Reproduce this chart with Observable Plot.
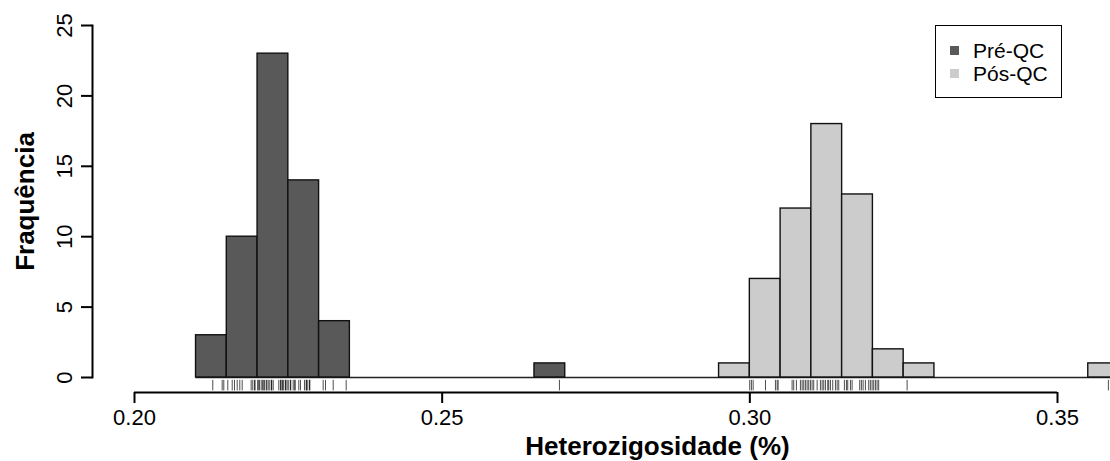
<!DOCTYPE html>
<html>
<head>
<meta charset="utf-8">
<script src="https://cdn.jsdelivr.net/npm/d3@7"></script>
<script src="https://cdn.jsdelivr.net/npm/@observablehq/plot@0.6"></script>
<style>
  body { margin: 0; background: #fff; }
  #wrap { position: relative; width: 1110px; height: 461px; overflow: hidden;
          font-family: "Liberation Sans", Arial, Helvetica, sans-serif; }
  #legend { position: absolute; left: 935px; top: 25px; width: 125px; height: 71px;
            border: 1.5px solid #000; background: #fff; }
  #legend .sw { position: absolute; left: 13.5px; width: 9px; height: 9px; }
  #legend .lab { position: absolute; left: 37px; font-size: 21px; line-height: 20px; color: #000; white-space: nowrap; }
</style>
</head>
<body>
<div id="wrap"><div id="chart"></div><div id="legend"></div></div>
<script>
// ---- data ----
const seriesNames  = ["Pré-QC", "Pós-QC"];
const seriesColors = ["#595959", "#cccccc"];
const binWidth = 0.005;

const preBinStart = [0.210, 0.215, 0.220, 0.225, 0.230, 0.265];
const preCounts   = [3, 10, 23, 14, 4, 1];

const postBinStart = [0.295, 0.300, 0.305, 0.310, 0.315, 0.320, 0.325, 0.355];
const postCounts   = [1, 7, 12, 18, 13, 2, 1, 1];

const preRug = [
  0.21272, 0.21425, 0.21451,
  0.21516, 0.21588, 0.21625, 0.21669, 0.21711, 0.21750, 0.21896, 0.21922, 0.21950, 0.21960,
  0.22004, 0.22010, 0.22031, 0.22059, 0.22085, 0.22090, 0.22112, 0.22140, 0.22150, 0.22173,
  0.22199, 0.22226, 0.22230, 0.22254, 0.22345, 0.22372, 0.22380, 0.22400, 0.22410, 0.22426,
  0.22454, 0.22460, 0.22481,
  0.22507, 0.22535, 0.22540, 0.22579, 0.22605, 0.22610, 0.22670, 0.22697, 0.22762, 0.22790,
  0.22795, 0.22816, 0.22844, 0.22850,
  0.23066, 0.23104, 0.23229, 0.23440,
  0.26906
];
const postRug = [
  0.29998,
  0.30026, 0.30054, 0.30254, 0.30416, 0.30444, 0.30460,
  0.30687, 0.30713, 0.30757, 0.30822, 0.30850, 0.30876, 0.30903, 0.30931, 0.30957, 0.30985,
  0.31012, 0.31038, 0.31094, 0.31147, 0.31175, 0.31201, 0.31229, 0.31266, 0.31282, 0.31310,
  0.31347, 0.31391, 0.31419, 0.31445,
  0.31537, 0.31570, 0.31591, 0.31635, 0.31662, 0.31786, 0.31813, 0.31841, 0.31878, 0.31932,
  0.31959, 0.31987,
  0.32013, 0.32041, 0.32068, 0.32094,
  0.32556,
  0.35827
];

const xTicks = [0.20, 0.25, 0.30, 0.35];
const yTicks = [0, 5, 10, 15, 20, 25];
const xLabel = "Heterozigosidade (%)";
const yLabelText = "Fraquência";

// ---- build tables ----
const preBins  = preBinStart.map((s, i) => ({x1: s, x2: s + binWidth, count: preCounts[i]}));
const postBins = postBinStart.map((s, i) => ({x1: s, x2: s + binWidth, count: postCounts[i]}));
const allStarts = preBinStart.concat(postBinStart);
const baseFrom = d3.min(allStarts), baseTo = d3.max(allStarts) + binWidth;

const font = '"Liberation Sans", Arial, Helvetica, sans-serif';

const chart = Plot.plot({
  width: 1110,
  height: 461,
  marginLeft: 92,
  marginRight: 0,
  marginTop: 25,
  marginBottom: 84,
  style: {fontFamily: font, background: "white", color: "#000", overflow: "hidden"},
  x: {domain: [xTicks[0], xTicks[xTicks.length - 1]], range: [134, 1057]},
  y: {domain: [yTicks[0], yTicks[yTicks.length - 1]], range: [377, 25]},
  marks: [
    Plot.ruleY([0], {x1: baseFrom, x2: baseTo, stroke: "#222", strokeWidth: 1.4}),
    Plot.rectY(preBins,  {x1: "x1", x2: "x2", y: "count", fill: seriesColors[0], stroke: "#111", strokeWidth: 1.4}),
    Plot.rectY(postBins, {x1: "x1", x2: "x2", y: "count", fill: seriesColors[1], stroke: "#111", strokeWidth: 1.4}),
    Plot.ruleX(preRug,  {x: d => d, y1: -0.2, y2: -0.95, stroke: "#000", strokeWidth: 0.7}),
    Plot.ruleX(postRug, {x: d => d, y1: -0.2, y2: -0.95, stroke: "#000", strokeWidth: 0.7}),
    Plot.ruleY([0], {x1: xTicks[0], x2: xTicks[xTicks.length - 1], dy: 15, stroke: "#000", strokeWidth: 2}),
    Plot.axisX({ticks: xTicks, tickSize: 11, tickPadding: 6, dy: 15, tickFormat: d3.format(".2f"),
                fontSize: 22, label: null, strokeWidth: 2}),
    Plot.axisY({ticks: yTicks, tickSize: 11, tickPadding: 10, tickRotate: -90,
                fontSize: 22, label: null, strokeWidth: 2}),
    Plot.frame({anchor: "left", strokeWidth: 2}),
    Plot.text([xLabel], {frameAnchor: "bottom", dx: 56, dy: 77, lineAnchor: "bottom",
                         fontSize: 26, fontWeight: "bold"}),
    Plot.text([yLabelText], {frameAnchor: "left", dx: -59, rotate: -90, lineAnchor: "bottom",
                             textAnchor: "middle", fontSize: 26, fontWeight: "bold"})
  ]
});
document.getElementById("chart").appendChild(chart);

// ---- legend ----
const legend = document.getElementById("legend");
const swTops = [19.5, 42.5], labTops = [14.6, 38.3];
seriesNames.forEach((name, i) => {
  const sw = document.createElement("div");
  sw.className = "sw"; sw.style.top = swTops[i] + "px"; sw.style.background = seriesColors[i];
  const lab = document.createElement("div");
  lab.className = "lab"; lab.style.top = labTops[i] + "px"; lab.textContent = name;
  legend.appendChild(sw); legend.appendChild(lab);
});
</script>
</body>
</html>
